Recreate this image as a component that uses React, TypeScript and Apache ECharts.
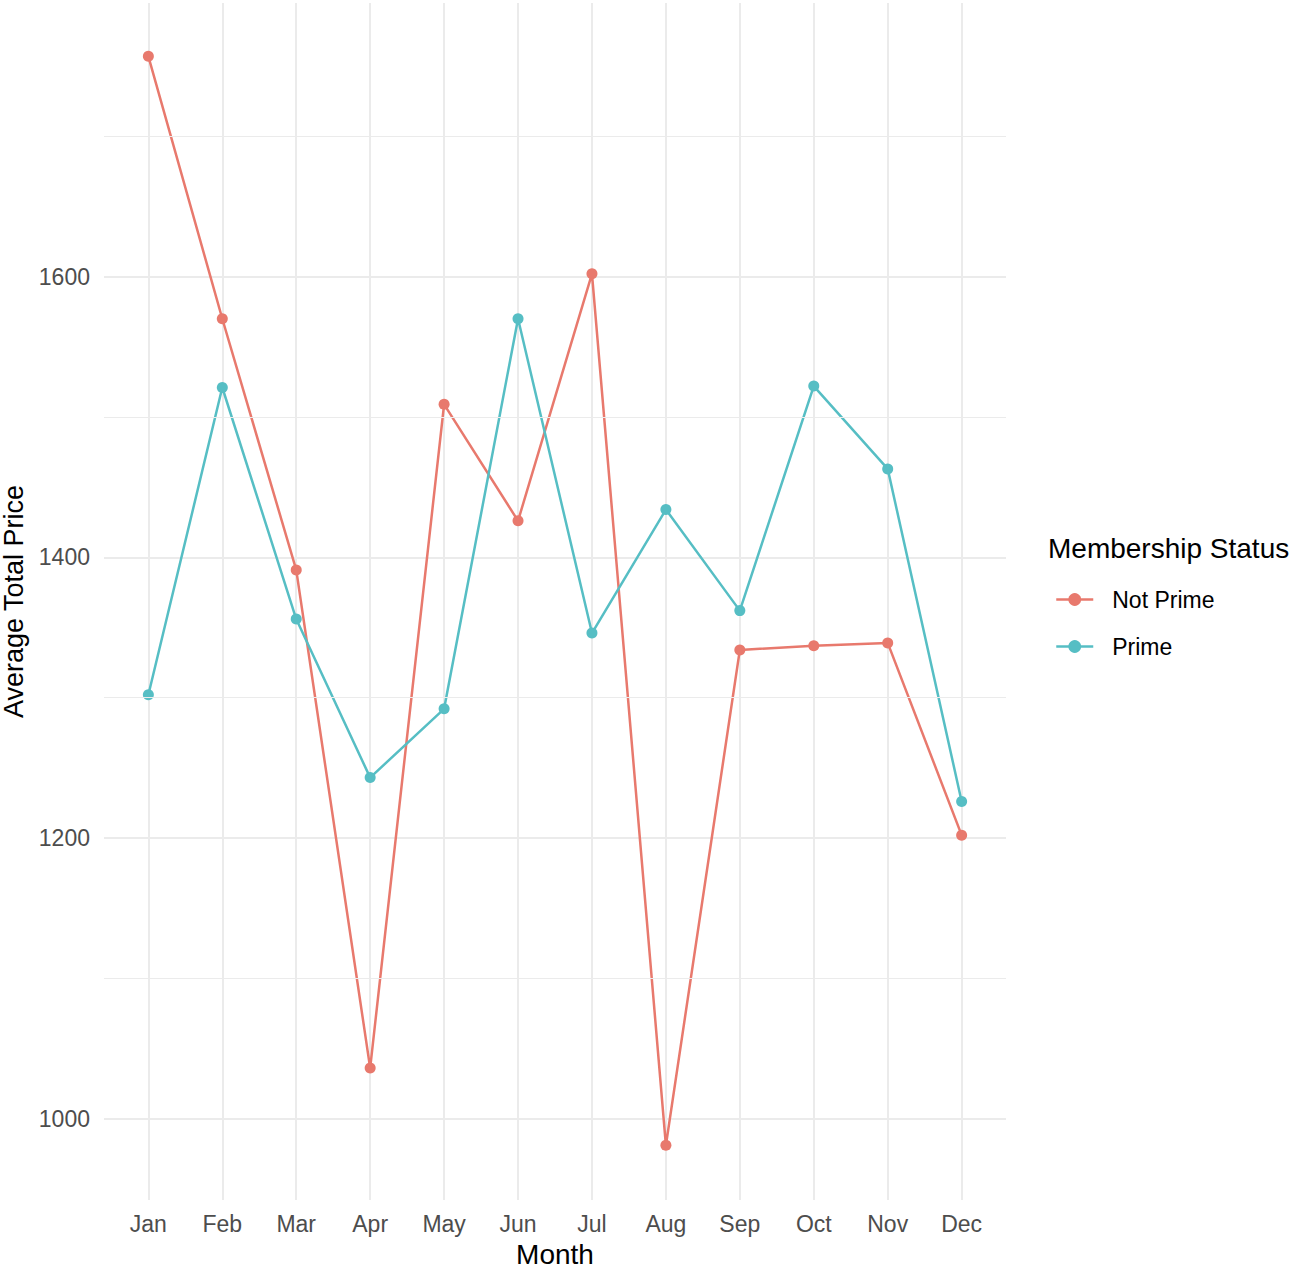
import { useEffect, useRef } from 'react'
import * as echarts from 'echarts'

const MONTHS = ['Jan', 'Feb', 'Mar', 'Apr', 'May', 'Jun', 'Jul', 'Aug', 'Sep', 'Oct', 'Nov', 'Dec']
const NOT_PRIME = [1757, 1570, 1391, 1036, 1509, 1426, 1602, 981, 1334, 1337, 1339, 1202]
const PRIME = [1302, 1521, 1356, 1243, 1292, 1570, 1346, 1434, 1362, 1522, 1463, 1226]
const Y_MAJOR = [1000, 1200, 1400, 1600]
const Y_MINOR = [1100, 1300, 1500, 1700]

const COLORS = ['#E8796D', '#56BEC4']
const FONT = '"Liberation Sans", Arial, Helvetica, sans-serif'
const GRID_COLOR = '#EBEBEB'

// ggplot 风格折线图：离散月份用数值轴模拟（两端各留 0.6 格）
export default function App() {
  const elRef = useRef<HTMLDivElement>(null)

  useEffect(() => {
    if (!elRef.current) return
    const chart = echarts.init(elRef.current, undefined, { renderer: 'svg' })
    const xIdx = MONTHS.map((_, i) => i)
    const toPoints = (vals: number[]) => vals.map((v, i) => [i, v])

    chart.setOption({
      animation: false,
      backgroundColor: '#ffffff',
      textStyle: { fontFamily: FONT },
      grid: { left: 104, right: 304, top: 3, bottom: 74, outerBoundsMode: 'none', containLabel: false },
      title: {
        text: 'Membership Status',
        left: 1048,
        top: 534,
        padding: 0,
        textStyle: { fontFamily: FONT, fontSize: 28, fontWeight: 'normal', color: '#000' },
      },
      legend: {
        orient: 'vertical',
        left: 1055,
        top: 588,
        padding: 0,
        itemWidth: 37,
        itemHeight: 16,
        itemGap: 24,
        data: ['Not Prime', 'Prime'],
        lineStyle: { width: 2.5 },
        textStyle: { fontFamily: FONT, fontSize: 23, color: '#000', padding: [0, 0, 0, 14] },
      },
      xAxis: {
        type: 'value',
        min: -0.6,
        max: 11.6,
        name: 'Month',
        nameLocation: 'middle',
        nameGap: 40,
        nameTextStyle: { fontFamily: FONT, fontSize: 28, color: '#000' },
        axisLine: { show: false },
        axisTick: { show: false, customValues: xIdx },
        axisLabel: {
          customValues: xIdx,
          formatter: (v: number) => MONTHS[Math.round(v)] ?? '',
          fontFamily: FONT,
          fontSize: 23,
          color: '#4D4D4D',
          margin: 12,
        },
        splitLine: { show: true, lineStyle: { color: GRID_COLOR, width: 2 } },
      },
      yAxis: {
        type: 'value',
        min: 942,
        max: 1795,
        name: 'Average Total Price',
        nameLocation: 'middle',
        nameGap: 70,
        nameTextStyle: { fontFamily: FONT, fontSize: 27, color: '#000' },
        axisLine: { show: false },
        axisTick: { show: false, customValues: Y_MAJOR },
        axisLabel: {
          customValues: Y_MAJOR,
          formatter: (v: number) => String(v),
          fontFamily: FONT,
          fontSize: 23,
          color: '#4D4D4D',
          margin: 14,
        },
        splitLine: { show: true, lineStyle: { color: GRID_COLOR, width: 2 } },
      },
      series: [
        {
          name: 'minor-grid',
          type: 'line',
          data: [],
          z: 1,
          silent: true,
          markLine: {
            silent: true,
            symbol: ['none', 'none'],
            label: { show: false },
            lineStyle: { color: GRID_COLOR, width: 1, type: 'solid' },
            data: Y_MINOR.map((v) => ({ yAxis: v })),
          },
        },
        {
          name: 'Not Prime',
          type: 'line',
          z: 3,
          data: toPoints(NOT_PRIME),
          symbol: 'circle',
          symbolSize: 11,
          itemStyle: { color: COLORS[0] },
          lineStyle: { color: COLORS[0], width: 2.5 },
        },
        {
          name: 'Prime',
          type: 'line',
          z: 3,
          data: toPoints(PRIME),
          symbol: 'circle',
          symbolSize: 11,
          itemStyle: { color: COLORS[1] },
          lineStyle: { color: COLORS[1], width: 2.5 },
        },
      ],
    })

    return () => chart.dispose()
  }, [])

  return (
    <div
      ref={elRef}
      style={{ position: 'absolute', left: 0, top: 0, width: 1310, height: 1274 }}
    />
  )
}
